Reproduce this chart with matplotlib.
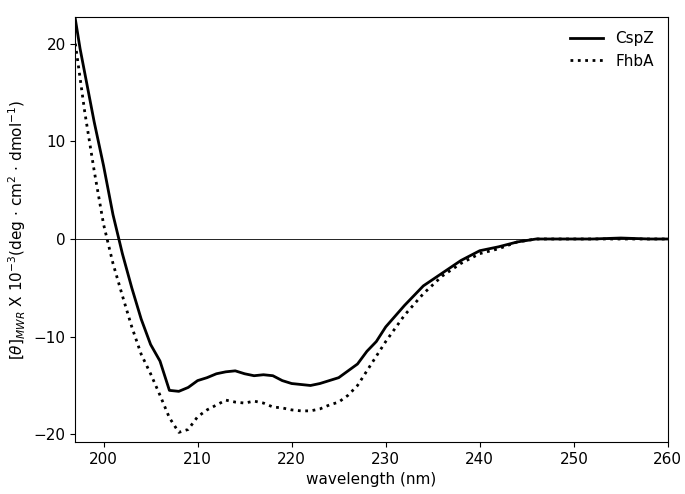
import matplotlib
matplotlib.use("Agg")
import matplotlib.pyplot as plt

wl = [197, 197.5, 198, 199, 200, 201, 202, 203, 204, 205, 206, 207, 208, 209, 210, 211, 212, 213, 214,
      215, 216, 217, 218, 219, 220, 221, 222, 223, 224, 225, 226, 227, 228, 229, 230, 232, 234,
      236, 238, 240, 242, 244, 246, 248, 250, 252, 255, 258, 260]
cspz = [22.5, 19.5, 17, 12, 7.5, 2.5, -1.5, -5, -8.2, -10.8, -12.5, -15.5, -15.6, -15.2, -14.5, -14.2, -13.8, -13.6,
        -13.5, -13.8, -14, -13.9, -14, -14.5, -14.8, -14.9, -15, -14.8, -14.5, -14.2, -13.5, -12.8, -11.5,
        -10.5, -9, -6.8, -4.8, -3.5, -2.2, -1.2, -0.8, -0.3, 0, 0, 0, 0, 0.1, 0, 0]
fhba = [20, 16.5, 13, 7, 1.5, -2.5, -5.8, -9, -11.8, -13.8, -16, -18.3, -19.8, -19.5, -18.2, -17.5, -17, -16.5,
        -16.7, -16.8, -16.6, -16.8, -17.2, -17.3, -17.5, -17.6, -17.6, -17.4, -17, -16.7, -16, -15, -13.5,
        -12, -10.5, -7.8, -5.6, -3.8, -2.5, -1.5, -1, -0.3, 0, 0, 0, 0, 0, 0, 0]

fig, ax = plt.subplots(figsize=(6.85, 4.94), dpi=100)
ax.plot(wl, cspz, color="black", lw=2, label="CspZ")
ax.plot(wl, fhba, color="black", lw=2, ls=":", label="FhbA")
ax.axhline(0, color="black", lw=0.6)
ax.set_xlim(197, 260)
ax.set_ylim(-20.8, 22.7)
ax.set_xticks([200, 210, 220, 230, 240, 250, 260])
ax.set_yticks([-20, -10, 0, 10, 20])
ax.tick_params(labelsize=11)
ax.set_xlabel("wavelength (nm)", fontsize=11)
ax.set_ylabel(r"$[\theta]_{MWR}$ X 10$^{-3}$(deg $\cdot$ cm$^2$ $\cdot$ dmol$^{-1}$)", fontsize=11)
ax.legend(frameon=False, loc="upper right", fontsize=11, handlelength=2.2)
fig.subplots_adjust(left=0.11, right=0.975, top=0.965, bottom=0.105)
fig.savefig("out.png", dpi=100)
